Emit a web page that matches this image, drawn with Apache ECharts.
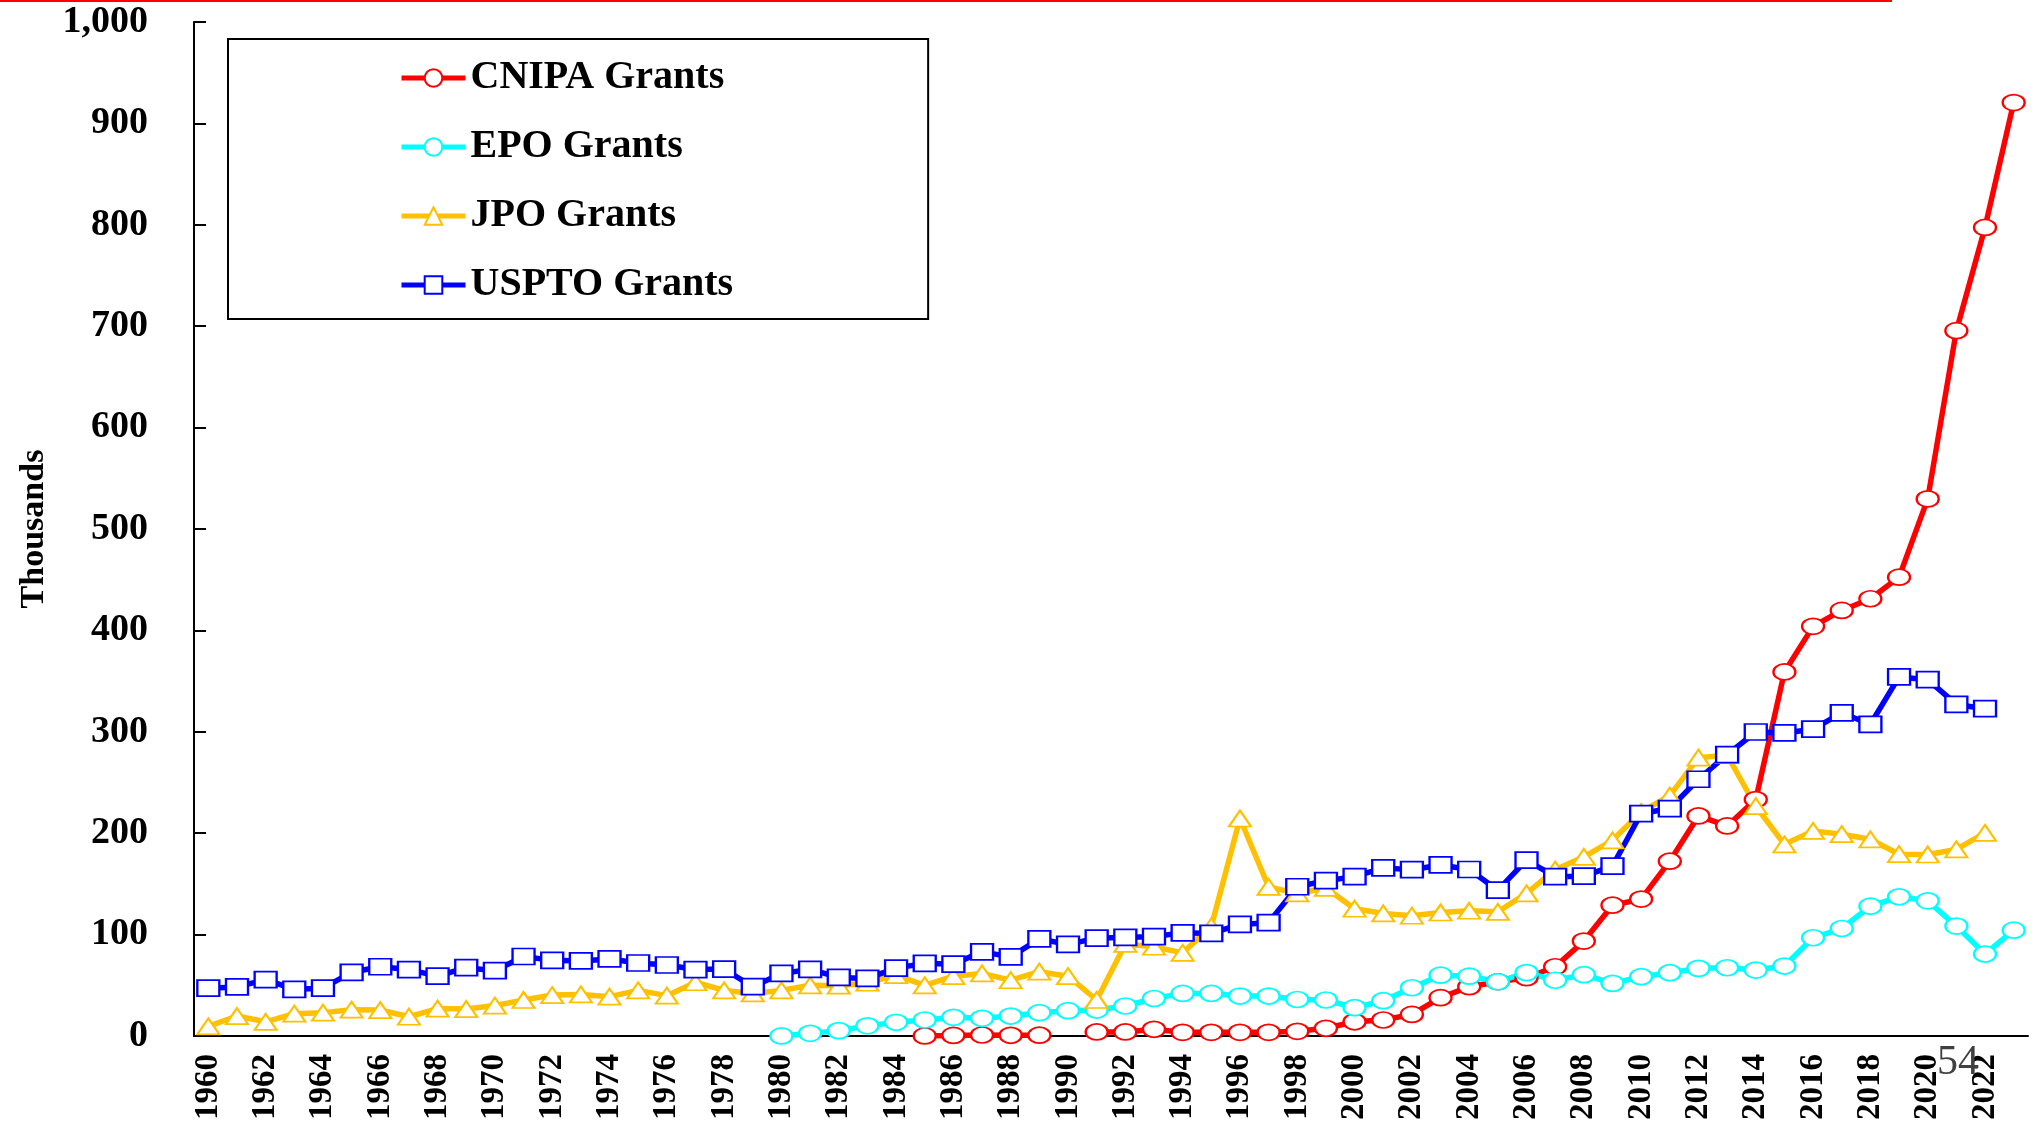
<!DOCTYPE html>
<html>
<head>
<meta charset="utf-8">
<title>Patent Grants by Office</title>
<script src="https://cdn.jsdelivr.net/npm/echarts@6/dist/echarts.min.js"></script>
<style>
  html, body { margin: 0; padding: 0; background: #fff; }
  #main { width: 2038px; height: 1124px; }
</style>
</head>
<body>
<div id="main"></div>
<script>
  // 横坐标：年份
  const years = [
    '1960', '1961', '1962', '1963', '1964', '1965', '1966', '1967', '1968', '1969',
    '1970', '1971', '1972', '1973', '1974', '1975', '1976', '1977', '1978', '1979',
    '1980', '1981', '1982', '1983', '1984', '1985', '1986', '1987', '1988', '1989',
    '1990', '1991', '1992', '1993', '1994', '1995', '1996', '1997', '1998', '1999',
    '2000', '2001', '2002', '2003', '2004', '2005', '2006', '2007', '2008', '2009',
    '2010', '2011', '2012', '2013', '2014', '2015', '2016', '2017', '2018', '2019',
    '2020', '2021', '2022', '2023'
  ]

  // 授权量（千件），按年份对齐
  const cnipaGrants = [
    null, null, null, null, null, null, null, null, null, null,
    null, null, null, null, null, null, null, null, null, null,
    null, null, null, null, null, 0.1, 0.6, 1, 0.7, 0.8,
    null, 4, 4, 6.6, 3.6, 3.6, 3.6, 3.6, 4.6, 7.6,
    14, 15.8, 21.3, 37.8, 48.6, 53.5, 57.5, 68.3, 93.6, 129,
    135, 172.4, 217, 207.2, 233.2, 359, 404, 419.7, 431.2, 452.5,
    529.7, 695.6, 797.4, 920.5
  ]

  const epoGrants = [
    null, null, null, null, null, null, null, null, null, null,
    null, null, null, null, null, null, null, null, null, null,
    0.1, 2.6, 5.3, 10, 13.5, 15.8, 18.4, 17.4, 19.7, 23,
    25, 25.6, 29.6, 37, 42, 42, 39.4, 39.4, 36, 35.5,
    27.9, 34.8, 47.6, 60, 59, 53.5, 62.5, 55, 60.5, 51.9,
    58.5, 62.4, 66.7, 67.3, 65, 69, 96.9, 106, 128, 137.3,
    133.3, 108.4, 80.8, 104.4
  ]

  const jpoGrants = [
    9.5, 19.7, 14, 22, 23, 26, 25.6, 19, 27, 26.6,
    30, 35.5, 40.4, 41, 38.8, 45, 39.8, 53, 45, 42,
    45, 50, 49.6, 52.5, 60, 50, 59, 61.7, 55, 63.4,
    59, 35.5, 90.8, 88, 82, 108, 214.5, 147, 140.6, 146,
    125.5, 120.9, 118.6, 121.8, 123.5, 122.5, 140.6, 164, 176.7, 193,
    221, 237, 274.5, 277, 226.6, 189, 202.3, 199, 194, 179.3,
    179, 184, 200.3, null
  ]

  const usptoGrants = [
    47.2, 48.4, 55.6, 46, 47.2, 62.8, 68.3, 65.5, 59.1, 67.4,
    64.4, 78.4, 74.6, 74, 76, 72, 70, 65.5, 66, 48.6,
    61.7, 65.7, 57.8, 56.8, 67, 71.6, 70.9, 83, 78, 95.8,
    90.3, 96.5, 97.3, 98, 101.8, 101.2, 110, 111.8, 147.2, 153.2,
    157.2, 165.8, 164, 168.7, 164.2, 143.8, 173.5, 157.1, 157.6, 167.5,
    219.4, 224.3, 253.2, 277.5, 299.8, 298.9, 302.6, 318.6, 307.4, 354.1,
    351.4, 327, 322.8, null
  ]

  const serif = '"Liberation Serif", "Times New Roman", serif'

  // 折线样式：空心标记 + 粗线
  function makeLine (name, data, color, symbol) {
    return {
      name: name,
      type: 'line',
      data: data,
      symbol: symbol,
      symbolSize: [22, 16],
      showAllSymbol: true,
      lineStyle: { color: color, width: 5.5 },
      itemStyle: { color: '#fff', borderColor: color, borderWidth: 2 },
      emphasis: { disabled: true }
    }
  }

  const chart = echarts.init(document.getElementById('main'))
  chart.setOption({
    animation: false,
    backgroundColor: '#fff',
    grid: { left: 194, right: 10, top: 22, bottom: 88 },
    legend: {
      orient: 'vertical',
      left: 228,
      top: 39,
      itemWidth: 64,
      itemHeight: 22,
      itemGap: 29,
      padding: [19, 195, 14, 171],
      borderColor: '#000',
      borderWidth: 2,
      lineStyle: { width: 5 },
      textStyle: { fontFamily: serif, fontWeight: 'bold', fontSize: 40, color: '#000', lineHeight: 40 },
      data: ['CNIPA Grants', 'EPO Grants', 'JPO Grants', 'USPTO Grants']
    },
    xAxis: {
      type: 'category',
      data: years,
      boundaryGap: true,
      axisLine: { lineStyle: { color: '#000', width: 2 } },
      axisTick: { inside: true, length: 10, interval: 0, lineStyle: { color: '#000', width: 2 } },
      axisLabel: {
        interval: 1, rotate: 90, margin: 18,
        color: '#000', fontFamily: serif, fontWeight: 'bold', fontSize: 33
      }
    },
    yAxis: {
      type: 'value',
      min: 0,
      max: 1000,
      interval: 100,
      name: 'Thousands',
      nameLocation: 'middle',
      nameRotate: 90,
      nameGap: 140,
      nameTextStyle: { fontFamily: serif, fontWeight: 'bold', fontSize: 34, color: '#000' },
      axisLine: { show: true, lineStyle: { color: '#000', width: 2 } },
      axisTick: { show: true, inside: true, length: 12, lineStyle: { color: '#000', width: 2 } },
      splitLine: { show: false },
      axisLabel: {
        margin: 46, color: '#000', fontFamily: serif, fontWeight: 'bold', fontSize: 38,
        formatter: v => v.toLocaleString('en-US')
      }
    },
    series: [
      makeLine('CNIPA Grants', cnipaGrants, '#FF0000', 'circle'),
      makeLine('EPO Grants', epoGrants, '#00FFFF', 'circle'),
      makeLine('JPO Grants', jpoGrants, '#FFC000', 'triangle'),
      makeLine('USPTO Grants', usptoGrants, '#0000FF', 'rect')
    ],
    graphic: [
      // 顶部红线
      { type: 'line', shape: { x1: 0, y1: 1, x2: 1892, y2: 1 }, style: { stroke: '#FF0000', lineWidth: 2 }, z: 10 },
      // 页码
      { type: 'text', left: 1937, top: 1042, z: 10,
        style: { text: '54', fontFamily: serif, fontSize: 42, fill: '#404040' } }
    ]
  })
</script>
</body>
</html>
